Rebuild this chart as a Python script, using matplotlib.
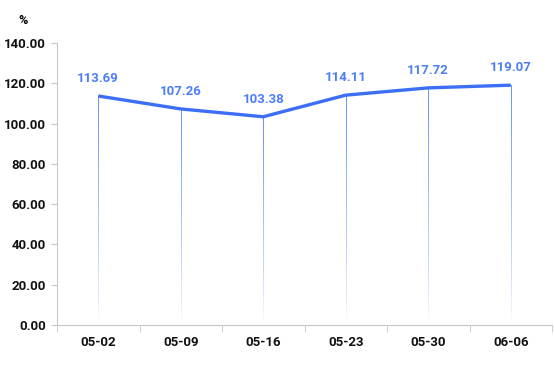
import matplotlib.pyplot as plt
import numpy as np
from matplotlib.collections import LineCollection

dates = ['05-02', '05-09', '05-16', '05-23', '05-30', '06-06']
values = [113.69, 107.26, 103.38, 114.11, 117.72, 119.07]

line_color = '#3c6ff5'
label_color = '#4d7ef7'
axis_color = '#c8c8c8'
drop_rgb = np.array([0.40, 0.58, 0.98])

plt.rcParams['font.family'] = ['Roboto', 'DejaVu Sans']

fig = plt.figure(figsize=(5.54, 3.66), dpi=100)
ax = fig.add_axes([57/554, 1 - 325/366, 495/554, 282/366])

x = np.arange(len(dates))

# vertical drop lines, fading to white toward the bottom
for xi, yi in zip(x, values):
    ys = np.linspace(yi, 0, 120)
    segs = [[(xi, ys[k]), (xi, ys[k + 1])] for k in range(len(ys) - 1)]
    t = np.linspace(1.0, 0.0, len(segs))[:, None] ** 0.8
    cols = drop_rgb * t + (1 - t)
    ax.add_collection(LineCollection(segs, colors=cols, linewidths=0.72,
                                     capstyle='butt', antialiased=False, zorder=2))

ax.plot(x, values, color=line_color, lw=2.4, solid_capstyle='butt', zorder=3)

for xi, yi in zip(x, values):
    ax.annotate(f'{yi:.2f}', (xi, yi), xytext=(0, 8), textcoords='offset points',
                ha='center', va='bottom', color=label_color, fontsize=9.5, fontweight='bold')

ax.set_xlim(-0.5, len(dates) - 0.5)
ax.set_ylim(0, 140)
ax.set_yticks(np.arange(0, 141, 20))
ax.set_yticklabels([f'{v:.2f}' for v in np.arange(0, 141, 20)])
ax.set_xticks(x)
ax.set_xticklabels(dates)
ax.set_xticks(np.arange(-0.5, len(dates)), minor=True)
ax.tick_params(axis='x', which='major', length=0, pad=8)
ax.tick_params(axis='x', which='minor', length=5, color=axis_color)
ax.tick_params(axis='y', length=4, color=axis_color, pad=4)
for lab in ax.get_xticklabels() + ax.get_yticklabels():
    lab.set_fontweight('bold')
    lab.set_fontsize(9.5)
    lab.set_color('#111111')

for side in ['top', 'right']:
    ax.spines[side].set_visible(False)
ax.spines['left'].set_color(axis_color)
ax.spines['bottom'].set_color(axis_color)

fig.text(18/554, 1 - 20/366, '%', fontsize=9, fontweight='bold', ha='left', va='center')

fig.savefig('out.png', dpi=100)
